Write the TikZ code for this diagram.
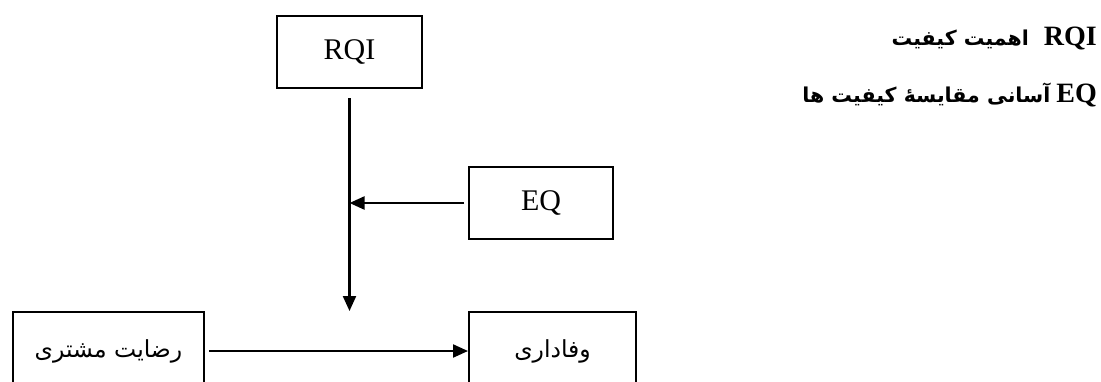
\documentclass[tikz,border=0pt]{standalone}
\usepackage{fontspec}
\setmainfont{Liberation Serif}
\newfontfamily\arabicfont[Script=Arabic]{DejaVu Sans}
\newcommand{\fabold}{\arabicfont\bfseries\fontsize{20.5}{24}\selectfont}
\TeXXeTstate=1
\usetikzlibrary{arrows.meta}

\begin{document}
\begin{tikzpicture}[x=1pt, y=-1pt,
  box/.style={draw, rectangle, line width=2pt, inner sep=0pt, minimum height=72pt},
  lbl/.style={font=\fontsize{30}{34}\selectfont},
  fa/.style={font=\arabicfont\fontsize{23.5}{28}\selectfont},
  arr/.style={-{Triangle[length=15pt,width=13pt]}, line width=2.2pt},
  note/.style={anchor=east, inner sep=0pt, font=\bfseries\fontsize{28}{30}\selectfont}
]
\clip (0,0) rectangle (1101,381);
\node[box, lbl, minimum width=145pt] (rqi) at (349.5,52) {RQI};
\node[box, lbl, minimum width=144pt] (eq) at (541,203) {EQ};
\node[box, fa, minimum width=191pt, minimum height=78pt] (sat) at (108.5,351) {\beginR رضایت مشتری\endR};
\node[box, fa, minimum width=167pt, minimum height=78pt] (loyal) at (552.5,351) {\beginR وفاداری\endR};
\coordinate (hit) at (rqi.south |- sat.north);
\coordinate (join) at (rqi.south |- eq.west);
\draw[arr, shorten <=9pt] (rqi.south) -- (hit);
\draw[arr, shorten <=4pt] (eq.west) -- (join);
\draw[arr, shorten <=4pt] (sat.east) -- (loyal.west);
% legend
\node[note] (n1) at (1097,38) {\beginR\beginL RQI\endL\hspace{15pt}{\fabold اهمیت کیفیت}\endR};
\node[note] (n2) at (1097,95) {\beginR\beginL EQ\endL\hspace{6pt}{\fabold آسانی مقایسهٔ کیفیت ها}\endR};
\end{tikzpicture}
\end{document}
